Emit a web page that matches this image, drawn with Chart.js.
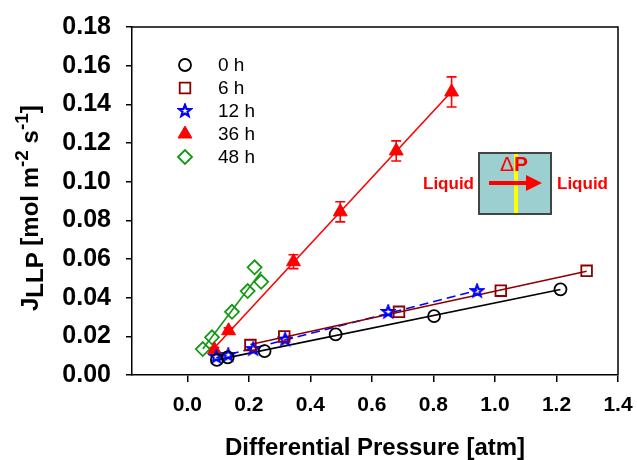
<!DOCTYPE html>
<html><head><meta charset="utf-8">
<script src="https://cdn.jsdelivr.net/npm/chart.js@4/dist/chart.umd.min.js"></script>
<style>html,body{margin:0;padding:0;background:#fff}#wrap{width:637px;height:460px}</style>
</head><body><div id="wrap"><canvas id="c" width="637" height="460"></canvas></div>
<script>
// ---- data ----
const seriesLabels = ['0 h', '6 h', '12 h', '36 h', '48 h'];
const x0h  = [0.096, 0.131, 0.251, 0.482, 0.802, 1.213];
const y0h  = [0.0078, 0.0091, 0.0124, 0.0210, 0.0305, 0.0443];
const x6h  = [0.205, 0.315, 0.688, 1.019, 1.298];
const y6h  = [0.0155, 0.0199, 0.0327, 0.0436, 0.0539];
const x12h = [0.094, 0.133, 0.214, 0.318, 0.653, 0.942];
const y12h = [0.0093, 0.0103, 0.0134, 0.0183, 0.0326, 0.0434];
const x36h = [0.088, 0.134, 0.345, 0.497, 0.679, 0.859];
const y36h = [0.0130, 0.0229, 0.0586, 0.0844, 0.1159, 0.1464];
const e36h = [0.0012, 0.0015, 0.0036, 0.0052, 0.0052, 0.0078];
const x48h = [0.050, 0.080, 0.145, 0.196, 0.2185, 0.240];
const y48h = [0.0134, 0.0195, 0.0327, 0.0434, 0.0557, 0.0482];
const xTicks = [0.0, 0.2, 0.4, 0.6, 0.8, 1.0, 1.2, 1.4];
const yTicks = [0.00, 0.02, 0.04, 0.06, 0.08, 0.10, 0.12, 0.14, 0.16, 0.18];
const xTitle = 'Differential Pressure [atm]';
const insetTexts = {left: 'Liquid', right: 'Liquid', delta: 'Δ', p: 'P'};

// ---- helpers ----
const pts = (xs, ys) => xs.map((x, i) => ({x, y: ys[i]}));
function fitLine(xs, ys) {
  const n = xs.length;
  const mx = xs.reduce((a, b) => a + b, 0) / n, my = ys.reduce((a, b) => a + b, 0) / n;
  let sxy = 0, sxx = 0;
  for (let i = 0; i < n; i++) { sxy += (xs[i] - mx) * (ys[i] - my); sxx += (xs[i] - mx) ** 2; }
  const b = sxy / sxx, a = my - b * mx;
  const lo = Math.min(...xs), hi = Math.max(...xs);
  return [{x: lo, y: a + b * lo}, {x: hi, y: a + b * hi}];
}
function makeStar(color) {
  const c = document.createElement('canvas'); c.width = 16; c.height = 16;
  const g = c.getContext('2d'); g.strokeStyle = color; g.lineWidth = 2.2; g.lineJoin = 'miter';
  g.beginPath();
  for (let i = 0; i < 10; i++) {
    const r = i % 2 ? 2.6 : 6.2, a = -Math.PI / 2 + i * Math.PI / 5;
    g.lineTo(8 + r * Math.cos(a), 8 + r * Math.sin(a));
  }
  g.closePath(); g.stroke();
  return c;
}
const C = {k: '#000000', dr: '#8B0000', b: '#0000FF', r: '#FF0000', g: '#119911'};
const star = makeStar(C.b);

const markerStyles = [
  {pointStyle: 'circle', radius: 6, borderColor: C.k, backgroundColor: 'rgba(0,0,0,0)', borderWidth: 1.8},
  {pointStyle: 'rect', radius: 7.5, borderColor: C.dr, backgroundColor: 'rgba(0,0,0,0)', borderWidth: 1.8},
  {pointStyle: star, radius: 7, borderColor: C.b, backgroundColor: C.b, borderWidth: 1},
  {pointStyle: 'triangle', radius: 8, borderColor: C.r, backgroundColor: C.r, borderWidth: 1},
  {pointStyle: 'rectRot', radius: 7, borderColor: C.g, backgroundColor: 'rgba(0,0,0,0)', borderWidth: 1.8}
];
const xsAll = [x0h, x6h, x12h, x36h, x48h], ysAll = [y0h, y6h, y12h, y36h, y48h];
const lineColors = [C.k, C.dr, C.b, C.r, C.g];

const datasets = [];
seriesLabels.forEach((lab, i) => {
  const m = markerStyles[i];
  datasets.push({
    type: 'scatter', label: lab, data: pts(xsAll[i], ysAll[i]), order: 1,
    pointStyle: m.pointStyle, pointRadius: m.radius, pointHoverRadius: m.radius,
    pointBorderColor: m.borderColor, pointBackgroundColor: m.backgroundColor, pointBorderWidth: m.borderWidth,
    borderColor: m.borderColor, backgroundColor: m.backgroundColor, showLine: false
  });
});
seriesLabels.forEach((lab, i) => {
  datasets.push({
    type: 'line', label: lab + ' fit', data: fitLine(xsAll[i], ysAll[i]), order: 5,
    borderColor: lineColors[i], borderWidth: 1.6, pointRadius: 0, fill: false,
    borderDash: i === 2 ? [9, 5] : [], tension: 0
  });
});

const FF = 'Arial, "Liberation Sans", Helvetica, sans-serif';

const extras = {
  id: 'extras',
  beforeDatasetsDraw(chart) {
    const ctx = chart.ctx, xs = chart.scales.x, ys = chart.scales.y;
    ctx.save(); ctx.strokeStyle = C.r; ctx.lineWidth = 1.6;
    x36h.forEach((xv, i) => {
      const px = xs.getPixelForValue(xv);
      const p1 = ys.getPixelForValue(y36h[i] + e36h[i]), p2 = ys.getPixelForValue(y36h[i] - e36h[i]);
      ctx.beginPath();
      ctx.moveTo(px, p1); ctx.lineTo(px, p2);
      ctx.moveTo(px - 5, p1); ctx.lineTo(px + 5, p1);
      ctx.moveTo(px - 5, p2); ctx.lineTo(px + 5, p2);
      ctx.stroke();
    });
    ctx.restore();
  },
  afterDraw(chart) {
    const ctx = chart.ctx, a = chart.chartArea;
    ctx.save(); ctx.strokeStyle = '#000'; ctx.lineWidth = 1.5;
    ctx.beginPath(); ctx.moveTo(a.left, a.top); ctx.lineTo(a.right, a.top); ctx.lineTo(a.right, a.bottom); ctx.stroke();
    ctx.restore();

    // legend
    ctx.save();
    seriesLabels.forEach((lab, i) => {
      const m = markerStyles[i];
      const cx = a.left + 53, cy = a.top + 38 + i * 23;
      ctx.strokeStyle = m.borderColor; ctx.fillStyle = m.backgroundColor; ctx.lineWidth = m.borderWidth;
      Chart.helpers.drawPoint(ctx, {pointStyle: m.pointStyle, radius: m.radius, borderWidth: m.borderWidth, rotation: 0}, cx, cy);
      ctx.fillStyle = '#000'; ctx.font = '19px ' + FF; ctx.textBaseline = 'middle'; ctx.textAlign = 'left';
      ctx.fillText(lab, a.left + 86, cy + 1);
    });
    ctx.restore();

    // y-axis title with sub/superscripts
    ctx.save();
    ctx.translate(38, 311); ctx.rotate(-Math.PI / 2);
    ctx.fillStyle = '#000'; ctx.textBaseline = 'alphabetic'; ctx.textAlign = 'left';
    const segs = [
      {t: 'J', s: 24, dy: 0}, {t: 'LLP', s: 24, dy: 5}, {t: ' [mol m', s: 24, dy: 0},
      {t: '-2', s: 19, dy: -10}, {t: ' s', s: 24, dy: 0}, {t: '-1', s: 19, dy: -10}, {t: ']', s: 24, dy: 0}
    ];
    let cx = 0;
    segs.forEach(sg => {
      ctx.font = 'bold ' + sg.s + 'px ' + FF;
      ctx.fillText(sg.t, cx, sg.dy);
      cx += ctx.measureText(sg.t).width;
    });
    ctx.restore();

    // inset diagram
    ctx.save();
    const bx = 479, by = 153, bw = 72, bh = 61;
    ctx.fillStyle = '#9CCFCF'; ctx.fillRect(bx, by, bw, bh);
    ctx.strokeStyle = '#444'; ctx.lineWidth = 2; ctx.strokeRect(bx, by, bw, bh);
    ctx.fillStyle = '#FFFF00'; ctx.fillRect(514, by + 1, 4, bh - 2);
    ctx.strokeStyle = C.r; ctx.fillStyle = C.r; ctx.lineWidth = 4;
    ctx.beginPath(); ctx.moveTo(489, 183); ctx.lineTo(528, 183); ctx.stroke();
    ctx.beginPath(); ctx.moveTo(526, 175); ctx.lineTo(542, 183); ctx.lineTo(526, 191); ctx.closePath(); ctx.fill();
    ctx.textBaseline = 'middle';
    ctx.font = 'bold 17px ' + FF;
    ctx.textAlign = 'right'; ctx.fillText(insetTexts.left, 474, 184);
    ctx.textAlign = 'left'; ctx.fillText(insetTexts.right, 557, 184);
    ctx.font = '21px ' + FF; ctx.textAlign = 'left';
    const dw = ctx.measureText(insetTexts.delta).width;
    ctx.font = 'bold 21px ' + FF;
    const pw = ctx.measureText(insetTexts.p).width;
    const sx = 514 - (dw + pw) / 2;
    ctx.font = '21px ' + FF; ctx.fillText(insetTexts.delta, sx, 165);
    ctx.font = 'bold 21px ' + FF; ctx.fillText(insetTexts.p, sx + dw, 165);
    ctx.restore();
  }
};

new Chart(document.getElementById('c'), {
  data: {datasets},
  plugins: [extras],
  options: {
    responsive: false, animation: false, devicePixelRatio: 1,
    layout: {padding: {left: 0, right: 19, top: 27, bottom: 0}},
    plugins: {legend: {display: false}, tooltip: {enabled: false}},
    scales: {
      x: {
        type: 'linear', min: -0.18, max: 1.4,
        afterBuildTicks: s => { s.ticks = xTicks.map(v => ({value: v})); },
        afterFit: s => { s.height = 85; s.paddingLeft = 0; s.paddingRight = 0; },
        ticks: {color: '#000', font: {family: FF, size: 21, weight: 'bold'}, padding: 11, maxRotation: 0,
                callback: v => Number(v).toFixed(1)},
        grid: {drawOnChartArea: false, drawTicks: true, tickLength: 7, color: '#000', lineWidth: 1.5},
        border: {display: true, color: '#000', width: 1.5},
        title: {display: true, text: xTitle, color: '#000', font: {family: FF, size: 24, weight: 'bold', lineHeight: 1}, padding: {top: 0, bottom: 0}}
      },
      y: {
        type: 'linear', min: 0, max: 0.18,
        afterBuildTicks: s => { s.ticks = yTicks.map(v => ({value: v})); },
        afterFit: s => { s.width = 132; s.paddingTop = 0; s.paddingBottom = 0; },
        ticks: {color: '#000', font: {family: FF, size: 25, weight: 'bold'}, padding: 15,
                callback: v => Number(v).toFixed(2)},
        grid: {drawOnChartArea: false, drawTicks: true, tickLength: 6, color: '#000', lineWidth: 1.5},
        border: {display: true, color: '#000', width: 1.5}
      }
    }
  }
});
</script></body></html>
